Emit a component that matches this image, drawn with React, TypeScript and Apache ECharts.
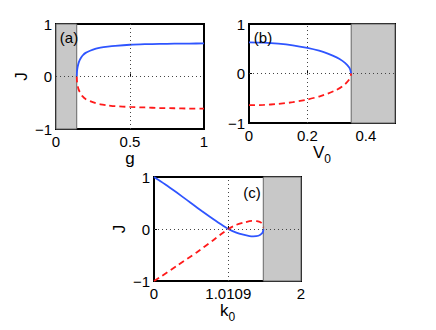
import React, { useEffect, useRef } from "react";
import * as echarts from "echarts";

// Panel (a): J versus g
const gValues = [0.14, 0.142, 0.146, 0.152, 0.16, 0.17, 0.18, 0.2, 0.23, 0.27, 0.3, 0.35, 0.4, 0.5, 0.6, 0.7, 0.8, 0.9, 1.0];
const jUpperA = [0, 0.1, 0.18, 0.25, 0.31, 0.36, 0.4, 0.45, 0.49, 0.53, 0.55, 0.57, 0.585, 0.605, 0.615, 0.62, 0.625, 0.628, 0.63];
const jLowerA = [0, -0.1, -0.17, -0.24, -0.29, -0.34, -0.38, -0.43, -0.47, -0.51, -0.53, -0.55, -0.565, -0.58, -0.59, -0.6, -0.605, -0.61, -0.61];
const grayA = [0, 0.14];
const gTicks = [0, 0.5, 1];

// Panel (b): J versus V0
const vValues = [0, 0.05, 0.1, 0.15, 0.2, 0.24, 0.27, 0.3, 0.32, 0.335, 0.345, 0.35];
const jUpperB = [0.63, 0.624, 0.604, 0.57, 0.517, 0.46, 0.4, 0.325, 0.255, 0.18, 0.105, 0];
const jLowerB = [-0.64, -0.635, -0.615, -0.58, -0.525, -0.465, -0.405, -0.33, -0.26, -0.18, -0.1, 0];
const grayB = [0.35, 0.5];
const vTicks = [0, 0.2, 0.4];

// Panel (c): J versus k0
const kBlue = [0, 0.15, 0.31, 0.45, 0.535, 0.65, 0.76, 0.9, 1.0109, 1.12, 1.215, 1.3, 1.35, 1.42, 1.465, 1.483, 1.488];
const jBlue = [1, 0.86, 0.7, 0.555, 0.465, 0.345, 0.235, 0.1, 0, -0.07, -0.11, -0.135, -0.14, -0.13, -0.09, -0.05, 0.0];
const kRed = [0, 0.1, 0.31, 0.58, 0.81, 1.0109, 1.12, 1.215, 1.33, 1.4, 1.45, 1.478, 1.488];
const jRed = [-1, -0.91, -0.71, -0.45, -0.21, 0, 0.08, 0.12, 0.155, 0.15, 0.13, 0.09, 0.03];
const grayC = [1.487, 2];
const kTicks = [0, 1.0109, 2];

const jTicks = [-1, 0, 1];

const FONT = "Liberation Sans";
const BLUE = "#2f55ff";
const RED = "#ff1a1a";

const zip = (xs: number[], ys: number[]) => xs.map((x, i) => [x, ys[i]]);
const fmt = (v: number) => String(v).replace("-", "\u2212");

function axisPair(idx: number, x: any, y: any, xTicks: number[]) {
  const tickLabel = { color: "#000", fontFamily: FONT, fontSize: 15, formatter: fmt };
  const tick = { show: true, inside: true, length: 3, lineStyle: { color: "#000" } };
  const xAxis = {
    type: "value",
    gridIndex: idx,
    axisLine: { show: false },
    axisTick: { ...tick, customValues: xTicks },
    splitLine: { show: false },
    axisLabel: { ...tickLabel, margin: 5, customValues: xTicks },
    nameLocation: "middle",
    nameTextStyle: { color: "#000", fontFamily: FONT, fontSize: 17, rich: { s: { fontFamily: FONT, fontSize: 12, padding: [13, 0, 0, 0] } } },
    ...x,
  };
  const yAxis = {
    type: "value",
    gridIndex: idx,
    min: -1,
    max: 1,
    axisLine: { show: false },
    axisTick: { ...tick, customValues: jTicks },
    splitLine: { show: false },
    axisLabel: { ...tickLabel, margin: 4, customValues: jTicks },
    nameLocation: "middle",
    nameRotate: 90,
    nameTextStyle: { color: "#000", fontFamily: FONT, fontSize: 17 },
    ...y,
  };
  return { xAxis, yAxis };
}

function panelSeries(idx: number, up: number[][], low: number[][], gray: number[], vx: number) {
  const dotted = { type: [1, 3], color: "#444", width: 1 };
  return [
    {
      type: "line",
      xAxisIndex: idx,
      yAxisIndex: idx,
      data: up,
      showSymbol: false,
      smooth: 0.25,
      lineStyle: { color: BLUE, width: 1.8 },
      z: 2,
      markLine: {
        silent: true,
        symbol: "none",
        label: { show: false },
        lineStyle: dotted,
        data: [{ xAxis: vx }, { yAxis: 0 }],
      },
    },
    {
      type: "line",
      xAxisIndex: idx,
      yAxisIndex: idx,
      data: low,
      showSymbol: false,
      smooth: 0.25,
      lineStyle: { color: RED, width: 1.8, type: [6, 4] },
      z: 3,
    },
    {
      type: "line",
      xAxisIndex: idx,
      yAxisIndex: idx,
      data: [[gray[0], 0]],
      showSymbol: false,
      lineStyle: { opacity: 0 },
      z: 5,
      markArea: {
        silent: true,
        itemStyle: { color: "#c8c8c8", borderColor: "#666", borderWidth: 1 },
        data: [[{ xAxis: gray[0], yAxis: -1 }, { xAxis: gray[1], yAxis: 1 }]],
      },
    },
  ];
}

export default function App() {
  const ref = useRef<HTMLDivElement>(null);
  useEffect(() => {
    if (!ref.current) return;
    const chart = echarts.init(ref.current, null, { renderer: "svg" });
    const gridBase = { show: true, borderColor: "#000", borderWidth: 2, backgroundColor: "#fff" };
    const a = axisPair(0, { min: 0, max: 1, name: "g", nameGap: 20 }, { name: "J", nameGap: 26 }, gTicks);
    const b = axisPair(1, { min: 0, max: 0.5, name: "V{s|0}", nameGap: 17 }, { name: "" }, vTicks);
    const c = axisPair(2, { min: 0, max: 2, name: "k{s|0}", nameGap: 17 }, { name: "J", nameGap: 26 }, kTicks);
    chart.setOption({
      animation: false,
      backgroundColor: "#fff",
      grid: [
        { ...gridBase, left: 56, top: 24, width: 148, height: 105 },
        { ...gridBase, left: 249, top: 24, width: 146, height: 99 },
        { ...gridBase, left: 154, top: 177, width: 147, height: 104 },
      ],
      xAxis: [a.xAxis, b.xAxis, c.xAxis],
      yAxis: [a.yAxis, b.yAxis, c.yAxis],
      series: [
        ...panelSeries(0, zip(gValues, jUpperA), zip(gValues, jLowerA), grayA, 0.5),
        ...panelSeries(1, zip(vValues, jUpperB), zip(vValues, jLowerB), grayB, 0.2),
        ...panelSeries(2, zip(kBlue, jBlue), zip(kRed, jRed), grayC, 1.0109),
      ],
      graphic: [
        { type: "text", x: 69, y: 37, z: 10, style: { text: "(a)", fontFamily: FONT, fontSize: 15, fill: "#000", align: "center", verticalAlign: "middle" } },
        { type: "text", x: 263, y: 37, z: 10, style: { text: "(b)", fontFamily: FONT, fontSize: 15, fill: "#000", align: "center", verticalAlign: "middle" } },
        { type: "text", x: 252, y: 192, z: 10, style: { text: "(c)", fontFamily: FONT, fontSize: 15, fill: "#000", align: "center", verticalAlign: "middle" } },
      ],
    });
    return () => chart.dispose();
  }, []);
  return <div ref={ref} style={{ position: "fixed", left: 0, top: 0, width: 436, height: 330, background: "#fff" }} />;
}
